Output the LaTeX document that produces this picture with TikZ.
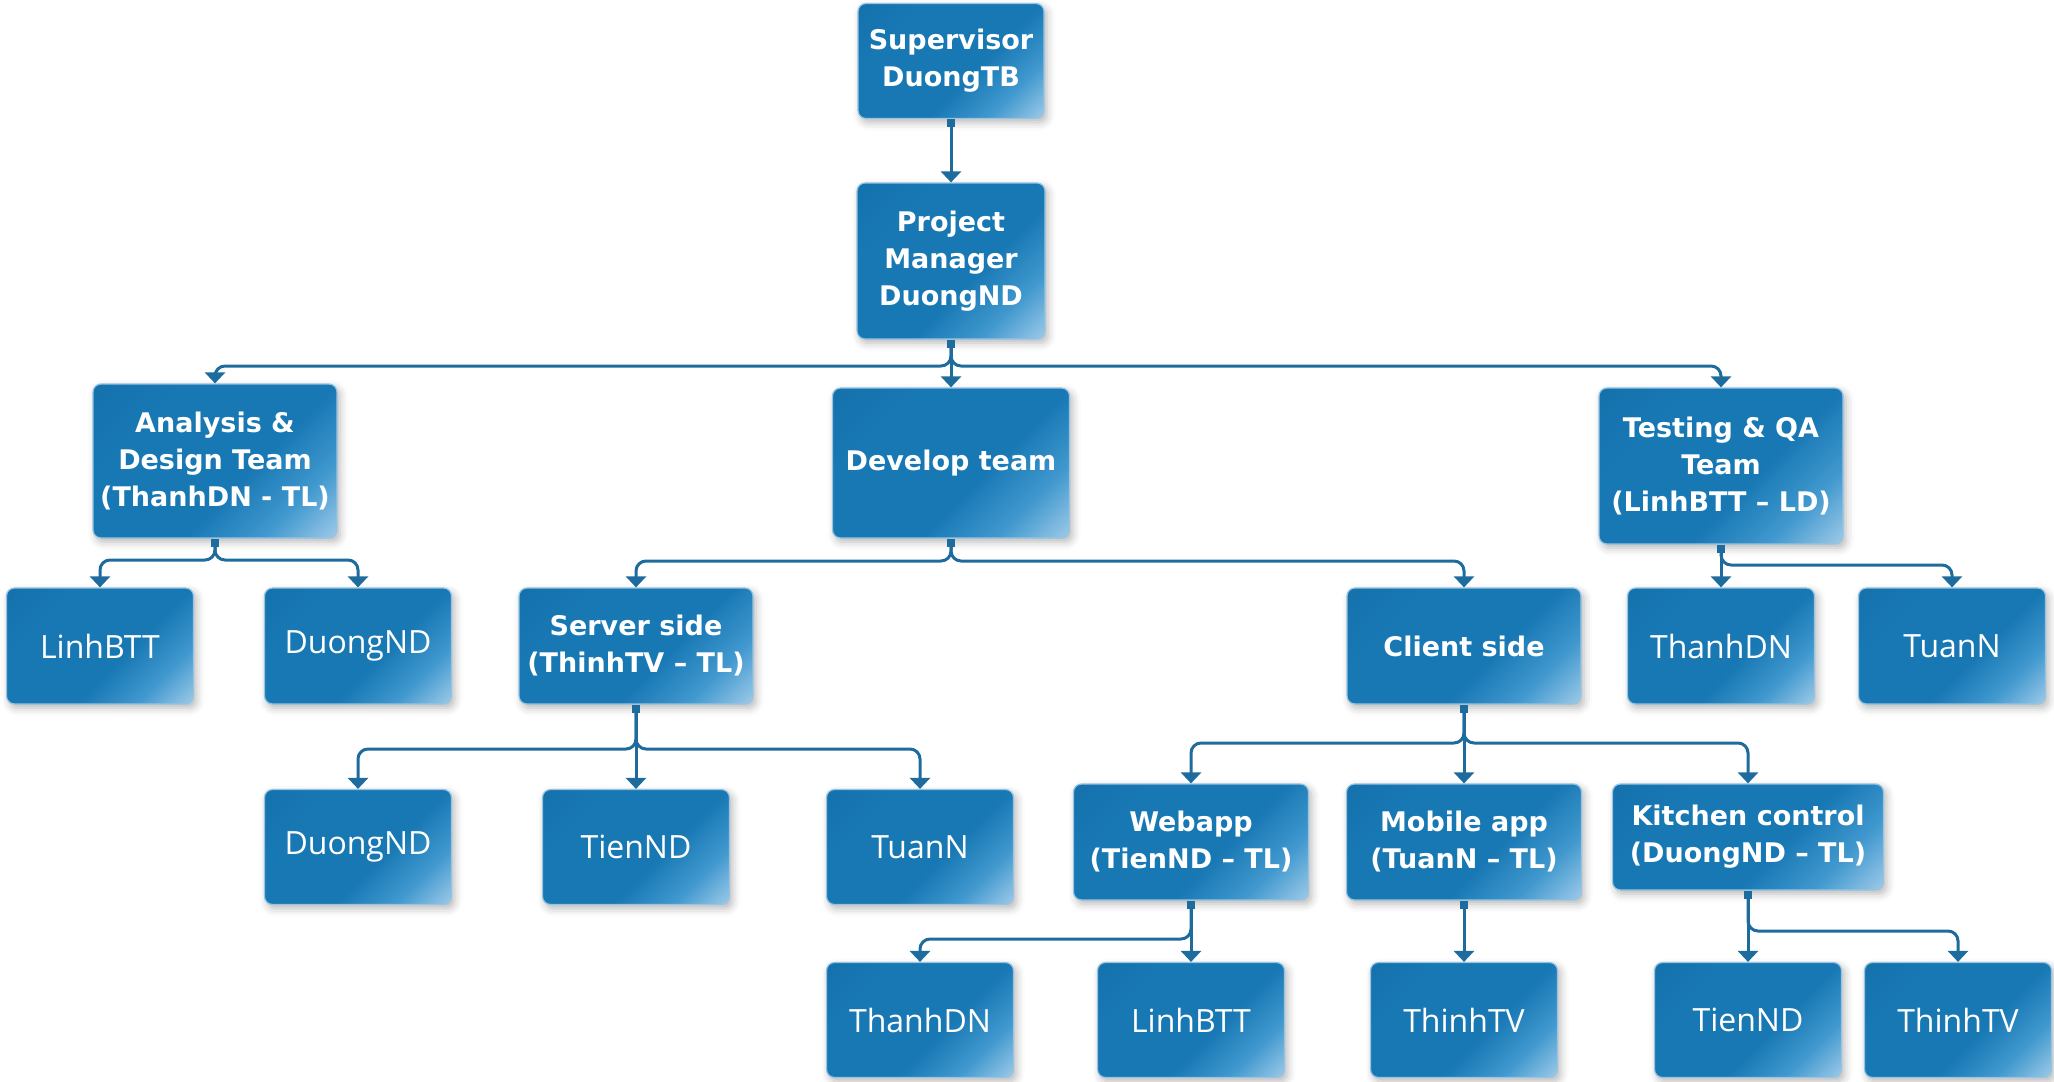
\documentclass[tikz,border=0pt]{standalone}
\usepackage{fontspec}
\setmainfont{Open Sans}
\newfontfamily\teamfont{DejaVu Sans}
\usetikzlibrary{arrows.meta,shadows.blur}

\definecolor{boxtop}{RGB}{16,106,164}
\definecolor{boxblue}{RGB}{24,120,180}
\definecolor{boxmid}{RGB}{64,152,206}
\definecolor{boxhi}{RGB}{176,212,238}
\definecolor{boxedge}{RGB}{150,196,226}
\definecolor{linecol}{RGB}{30,108,158}

% diagonal fill: blue body, soft light corner at the lower right
\pgfdeclareverticalshading{boxfill}{100bp}{color(0bp)=(boxhi); color(12bp)=(boxhi); color(28bp)=(boxmid); color(42bp)=(boxblue); color(70bp)=(boxblue); color(100bp)=(boxtop)}

\tikzset{
  box/.style={rounded corners=4pt, shading=boxfill, shading angle=45,
    draw=boxedge, line width=0.6pt, text=white, align=center, inner sep=0pt,
    blur shadow={shadow xshift=1.5pt, shadow yshift=-2pt, shadow blur radius=4pt, shadow opacity=28}},
  team/.style={box, font={\teamfont\bfseries\fontsize{13.5pt}{18.5pt}\selectfont}},
  person/.style={box, font={\fontsize{16pt}{19pt}\selectfont}},
  sz/.style 2 args={minimum width=#1*0.5pt, minimum height=#2*0.5pt},
  conn/.style={draw=linecol, line width=1.5pt, rounded corners=5pt,
    {Square[length=4pt,width=4pt]}-{Triangle[width=10pt,length=5.5pt]}}
}

\begin{document}
\begin{tikzpicture}[x=0.5pt,y=-0.5pt]
\useasboundingbox (0,0) rectangle (2054,1081);

% management
\node[team, sz={186}{115}] (sup)  at (951,61)  {Supervisor\\DuongTB};
\node[team, sz={188}{156}] (pm)   at (951,261) {Project\\Manager\\DuongND};

% teams
\node[team, sz={244}{154}] (ana)  at (215,461)  {Analysis \&\\Design Team\\(ThanhDN - TL)};
\node[team, sz={237}{150}] (dev)  at (951,463)  {Develop team};
\node[team, sz={244}{156}] (test) at (1721,466) {Testing \& QA\\Team\\(LinhBTT – LD)};

% fourth row
\node[person, sz={187}{116}] (l1)  at (100,646)  {LinhBTT};
\node[person, sz={187}{116}] (d1)  at (358,646)  {DuongND};
\node[team,   sz={234}{116}] (srv) at (636,646)  {Server side\\(ThinhTV – TL)};
\node[team,   sz={234}{116}] (cli) at (1464,646) {Client side};
\node[person, sz={187}{116}] (t1)  at (1721,646) {ThanhDN};
\node[person, sz={187}{116}] (t2)  at (1952,646) {TuanN};

% fifth row
\node[person, sz={187}{115}] (s1)  at (358,847)  {DuongND};
\node[person, sz={187}{115}] (s2)  at (636,847)  {TienND};
\node[person, sz={187}{115}] (s3)  at (920,847)  {TuanN};
\node[team,   sz={235}{116}] (web) at (1191,842) {Webapp\\(TienND – TL)};
\node[team,   sz={235}{116}] (mob) at (1464,842) {Mobile app\\(TuanN – TL)};
\node[team,   sz={271}{106}] (kit) at (1748,837) {Kitchen control\\(DuongND – TL)};

% sixth row
\node[person, sz={187}{115}] (w1) at (920,1020)  {ThanhDN};
\node[person, sz={187}{115}] (w2) at (1191,1020) {LinhBTT};
\node[person, sz={187}{115}] (m1) at (1464,1020) {ThinhTV};
\node[person, sz={187}{115}] (k1) at (1748,1020) {TienND};
\node[person, sz={187}{115}] (k2) at (1958,1020) {ThinhTV};

% bus levels
\coordinate (bpm)  at (0,366);
\coordinate (bana) at (0,560);
\coordinate (bdev) at (0,561);
\coordinate (btst) at (0,565);
\coordinate (bsrv) at (0,749);
\coordinate (bcli) at (0,743);
\coordinate (bweb) at (0,939);
\coordinate (bkit) at (0,931);

% connectors
\draw[conn] (sup.south) -- (pm.north);

\draw[conn] (pm.south) -- (pm.south |- bpm) -| (ana.north);
\draw[conn] (pm.south) -- (dev.north);
\draw[conn] (pm.south) -- (pm.south |- bpm) -| (test.north);

\draw[conn] (ana.south) -- (ana.south |- bana) -| (l1.north);
\draw[conn] (ana.south) -- (ana.south |- bana) -| (d1.north);

\draw[conn] (dev.south) -- (dev.south |- bdev) -| (srv.north);
\draw[conn] (dev.south) -- (dev.south |- bdev) -| (cli.north);

\draw[conn] (test.south) -- (t1.north);
\draw[conn] (test.south) -- (test.south |- btst) -| (t2.north);

\draw[conn] (srv.south) -- (srv.south |- bsrv) -| (s1.north);
\draw[conn] (srv.south) -- (s2.north);
\draw[conn] (srv.south) -- (srv.south |- bsrv) -| (s3.north);

\draw[conn] (cli.south) -- (cli.south |- bcli) -| (web.north);
\draw[conn] (cli.south) -- (mob.north);
\draw[conn] (cli.south) -- (cli.south |- bcli) -| (kit.north);

\draw[conn] (web.south) -- (web.south |- bweb) -| (w1.north);
\draw[conn] (web.south) -- (w2.north);

\draw[conn] (mob.south) -- (m1.north);

\draw[conn] (kit.south) -- (k1.north);
\draw[conn] (kit.south) -- (kit.south |- bkit) -| (k2.north);
\end{tikzpicture}
\end{document}
